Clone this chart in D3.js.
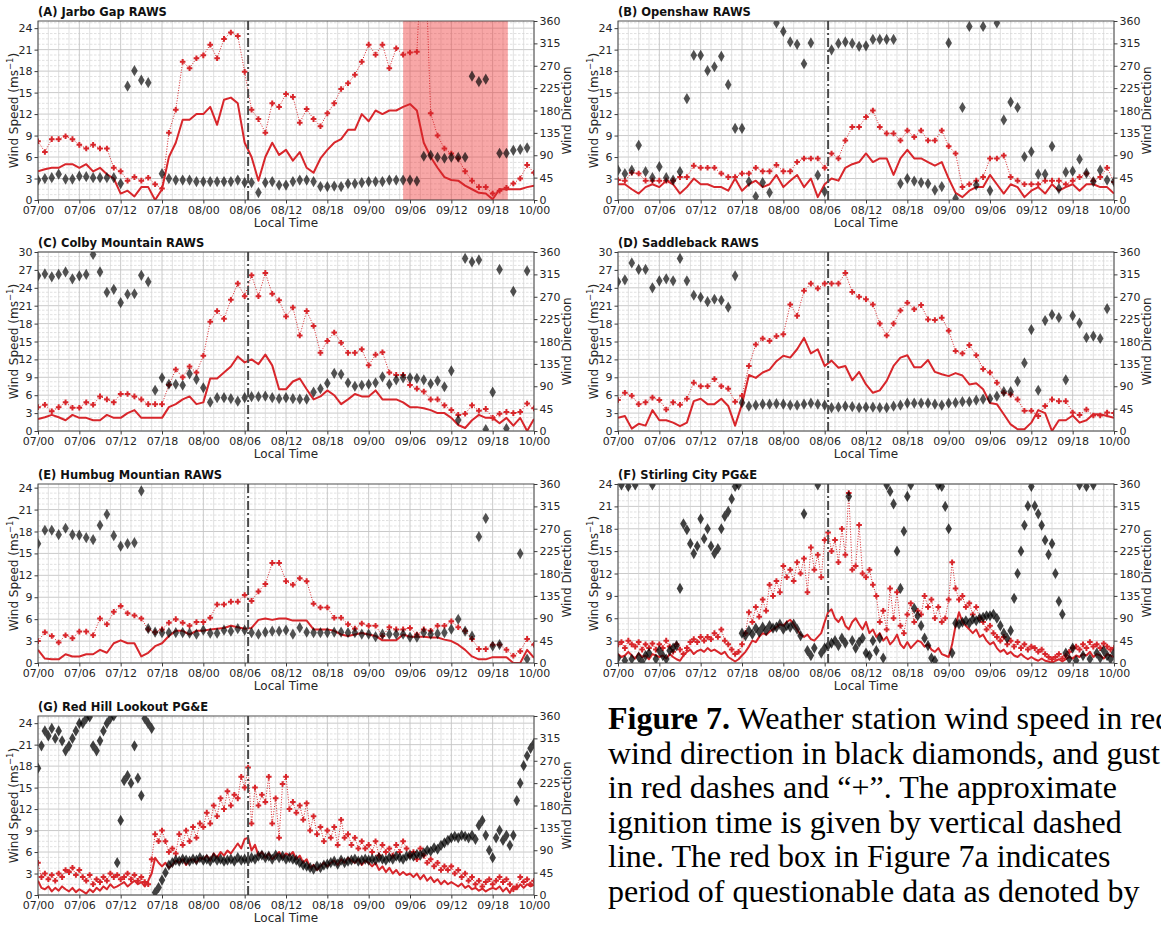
<!DOCTYPE html>
<html>
<head>
<meta charset="utf-8">
<script src="https://cdn.jsdelivr.net/npm/d3@7"></script>
<style>
  body { margin: 0; background: #fff; }
  svg { display: block; }
</style>
</head>
<body>
<svg id="fig" width="1161" height="926"></svg>
<script>
// ---- time axis -------------------------------------------------------------
const timeLabels = ["07/00","07/06","07/12","07/18","08/00","08/06","08/12","08/18","09/00","09/06","09/12","09/18","10/00"];
const hourlyTimes = d3.range(73);                 // hours since 07/00 (RAWS, hourly)
const halfHourTimes = d3.range(145).map(i => i / 2); // hours since 07/00 (PG&E, 30-min)
const ignitionHour = 30.5;
const questionableSpan = [53, 68.2];

// ---- (A) Jarbo Gap RAWS -----------------------------------------------------
const jarboSpeed = [4.0,4.3,4.5,4.5,5.0,5.0,4.5,5.0,4.0,4.5,3.6,3.0,0.9,1.3,0.5,1.8,1.8,0.0,1.5,6.0,8.0,11.2,11.2,12.0,12.0,13.0,10.5,14.0,14.3,13.5,8.0,6.0,2.7,6.0,8.0,6.3,7.0,5.5,6.7,4.5,3.8,5.8,7.0,8.0,8.5,9.8,9.8,12.0,11.0,12.5,12.0,12.5,12.5,13.0,13.4,12.5,8.0,6.0,4.5,3.2,2.8,2.7,2.0,1.5,1.0,0.9,0.1,1.5,1.5,1.5,1.5,1.8,2.0];
const jarboGust = [8.2,6.7,8.5,8.5,8.9,8.5,7.7,7.2,7.7,7.2,7.2,4.5,4.0,2.7,3.2,2.7,3.1,2.2,1.6,9.4,12.6,19.3,18.4,19.8,20.2,21.7,19.8,22.5,23.4,22.9,17.9,12.6,11.3,9.4,13.5,13.0,14.8,14.4,10.8,12.7,11.3,10.3,12.1,13.5,15.5,16.3,17.5,19.3,21.7,20.3,21.7,18.4,21.2,20.3,20.6,20.7,40.0,12.1,9.0,7.2,6.5,5.8,4.0,2.7,1.8,1.8,0.9,1.3,1.7,2.3,3.0,4.9,3.8];
const jarboDir = [40,43,45,52,42,42,48,47,45,45,45,45,33,229,260,241,236,null,53,43,40,40,40,37,37,37,37,37,37,40,35,35,15,35,37,30,30,37,40,40,37,27,27,28,27,33,33,35,37,37,37,40,40,40,40,38,88,90,86,84,86,86,86,249,238,243,null,94,94,100,102,105,null];

// ---- (B) Openshaw RAWS ------------------------------------------------------
const openshawSpeed = [2.2,2.2,1.5,0.9,1.8,2.2,1.8,2.7,2.2,0.9,1.8,3.0,2.2,2.2,1.8,1.8,1.3,3.0,1.3,2.2,2.7,1.8,2.2,3.5,1.8,2.7,3.5,1.8,3.0,0.4,2.2,3.0,2.7,4.5,5.0,5.3,6.5,5.3,5.8,5.8,3.5,5.8,7.0,5.8,5.8,5.3,4.8,5.3,3.0,1.0,0.4,1.3,1.8,1.8,3.5,2.2,0.9,2.2,1.8,0.4,1.3,1.8,0.9,2.2,1.3,1.8,2.2,1.3,2.2,2.2,1.8,1.8,0.9];
const openshawGust = [2.8,2.7,3.8,3.7,2.7,2.7,2.7,2.7,2.7,3.2,3.2,4.8,4.5,4.5,4.5,3.7,3.2,3.2,3.7,3.7,4.5,4.0,4.0,4.9,4.0,4.0,5.3,5.8,5.8,5.8,4.5,6.5,5.8,8.3,10.2,10.2,11.6,12.5,10.2,9.3,9.3,8.3,9.7,8.8,9.7,8.3,8.3,9.7,7.5,6.5,1.8,2.2,2.7,3.2,5.8,5.8,6.2,3.2,2.7,2.2,2.2,2.2,2.7,2.7,2.7,2.2,2.7,3.2,3.7,2.7,3.2,4.5,2.5];
const openshawDir = [60,53,60,110,57,45,67,45,40,57,204,291,291,260,268,289,232,144,144,37,7,35,15,356,339,318,313,274,316,50,17,302,315,318,315,309,310,323,323,323,323,33,43,38,35,33,20,27,316,3,186,349,30,349,19,356,161,197,186,87,97,52,52,108,23,56,58,82,54,37,60,40,37];

// ---- (C) Colby Mountain RAWS ------------------------------------------------
const colbySpeed = [2.0,2.3,2.7,2.3,1.8,2.7,2.2,2.2,1.8,1.8,2.7,2.2,2.2,3.0,3.5,2.2,2.2,2.2,2.2,4.0,4.5,5.3,5.8,4.5,4.8,8.8,8.8,9.8,10.8,12.5,11.5,12.0,11.2,12.8,11.0,7.0,7.0,8.3,8.8,7.0,5.3,5.8,6.8,6.0,4.5,5.3,6.2,5.8,5.8,6.8,5.3,5.3,5.3,4.8,4.0,4.0,3.8,3.5,3.0,3.0,2.2,1.0,0.5,1.8,2.7,2.2,2.2,1.3,2.2,0.9,2.2,0.0,2.0];
const colbyGust = [4.0,4.4,3.3,4.0,4.8,3.9,3.9,4.8,4.4,5.8,5.3,4.8,6.2,6.2,5.8,5.3,4.5,4.5,4.5,7.7,10.3,9.0,10.8,9.8,12.6,18.3,20.1,18.8,22.0,24.7,22.6,26.1,22.6,26.5,23.0,21.9,19.2,20.7,16.0,20.1,17.6,13.1,15.1,16.5,14.8,13.1,13.1,13.7,11.0,12.8,13.2,9.8,9.4,9.4,7.7,7.1,6.6,5.3,5.3,4.3,3.5,2.7,2.9,4.3,3.4,3.7,2.2,2.9,3.2,3.0,3.2,4.6,3.8];
const colbyDir = [312,316,310,315,320,306,312,315,355,320,279,285,258,275,276,313,300,82,107,94,94,92,115,104,87,58,67,67,65,60,67,69,69,70,67,65,67,65,64,64,78,85,96,116,114,97,90,92,94,97,109,94,103,107,107,106,103,95,101,89,121,22,347,340,344,3,78,325,5,281,null,322,null];

// ---- (D) Saddleback RAWS ----------------------------------------------------
const saddlebackSpeed = [2.2,2.5,0.4,1.2,0.9,3.5,1.8,1.8,1.4,0.8,1.4,5.0,5.4,4.5,4.5,5.4,4.2,0.9,4.5,9.4,8.9,9.8,10.3,11.7,12.6,12.3,13.7,15.6,13.0,13.7,10.9,11.8,10.6,10.9,8.5,9.9,7.8,6.4,6.8,8.4,10.9,12.3,12.7,10.7,10.7,11.9,9.9,9.5,9.2,9.7,9.3,7.8,8.0,7.0,4.7,4.5,2.8,1.1,0.3,0.3,1.4,3.5,3.0,0.0,1.8,1.8,2.6,1.4,1.8,2.8,2.8,2.5,2.2];
const saddlebackGust = [5.2,6.4,5.9,4.5,4.8,5.6,5.2,3.6,4.8,4.4,5.4,8.1,7.5,7.5,8.7,7.5,7.1,4.9,5.9,10.9,14.5,15.5,15.1,15.9,16.2,21.2,19.3,23.5,24.7,23.9,24.7,24.7,24.7,26.5,23.3,22.5,22.1,21.2,18.0,16.0,18.0,20.2,21.5,20.4,21.1,18.7,18.6,19.0,16.8,13.4,13.0,14.4,12.7,10.4,9.8,8.1,6.4,6.1,5.3,3.4,3.4,2.5,4.2,5.3,5.0,5.0,3.1,2.7,3.6,2.6,2.6,3.1,3.0];
const saddlebackDir = [300,304,338,325,325,288,302,306,302,347,302,273,269,260,265,263,249,312,57,50,52,54,54,55,54,52,52,54,56,54,52,47,48,50,49,47,48,48,47,47,50,52,56,56,56,56,54,52,56,57,59,59,62,64,65,70,79,79,100,137,204,82,222,234,228,103,232,217,188,191,186,246,null];

// ---- (E) Humbug Mountian RAWS -----------------------------------------------
const humbugSpeed = [1.8,0.6,0.5,0.5,1.2,0.9,0.9,1.2,1.2,1.8,1.4,2.7,3.1,2.7,2.7,0.9,1.4,2.3,2.7,3.7,4.4,4.4,3.9,4.4,4.4,4.6,4.7,4.8,5.1,4.9,4.7,4.8,5.9,6.1,5.9,6.1,6.1,5.8,5.8,5.8,4.6,4.6,4.6,4.4,3.9,3.7,3.9,4.1,3.9,3.7,3.1,3.1,3.1,3.9,3.6,3.6,3.6,3.5,3.5,3.2,3.0,2.5,1.8,0.9,0.5,0.5,0.8,0.8,0.8,0.0,0.0,1.8,0.7];
const humbugGust = [3.0,4.2,3.7,2.8,3.8,3.4,4.3,4.3,3.8,6.1,5.3,7.0,7.8,6.8,6.5,6.1,4.6,4.2,4.6,5.5,6.0,5.5,5.1,5.6,5.6,6.2,8.0,8.0,8.4,8.4,9.3,8.5,9.8,10.8,13.7,13.7,11.2,10.7,11.6,11.2,8.1,7.6,7.6,6.2,6.2,5.3,4.7,5.4,5.1,5.1,3.7,4.9,4.6,4.6,4.8,3.9,4.6,4.4,5.1,5.1,5.7,4.9,4.4,3.3,1.9,1.9,2.5,2.5,1.8,1.0,1.6,3.3,2.5];
const humbugDir = [240,267,267,258,271,258,257,252,248,277,299,256,235,240,242,346,69,62,61,61,61,61,60,58,66,60,60,66,64,69,66,61,58,62,64,64,66,58,71,62,61,61,61,62,62,61,61,58,58,53,58,58,58,58,52,52,61,58,59,61,68,88,64,54,254,291,34,37,null,null,220,8,null];

// ---- (F) Stirling City PG&E (30-min) ----------------------------------------
const stirlingSpeed = [1.2,0.8,1.0,1.5,1.0,0.6,1.3,0.8,1.0,0.5,1.2,1.0,0.8,
  1.0,0.6,1.2,0.8,0.5,0.3,1.0,1.5,1.8,1.2,1.6,1.8,
  1.5,2.0,1.6,1.8,1.5,1.2,1.5,0.8,0.5,0.2,0.5,1.0,
  1.5,2.2,3.0,2.8,3.5,4.0,3.8,4.2,4.5,4.8,5.2,5.0,
  5.5,5.8,5.2,4.5,3.8,3.5,3.8,3.2,3.0,3.5,4.0,5.5,
  6.8,7.2,6.0,5.5,6.2,5.0,4.5,5.5,6.0,5.2,4.5,5.5,
  4.0,4.5,3.5,4.0,3.0,3.5,2.5,3.0,3.8,2.5,2.0,2.8,
  2.0,2.5,3.0,2.8,2.2,2.5,1.8,1.5,2.0,1.2,1.0,0.8,
  2.5,5.0,6.8,5.5,5.0,4.5,4.0,4.5,3.5,3.8,3.0,2.5,
  2.8,2.0,1.5,1.8,1.2,1.5,1.0,0.8,1.2,0.8,0.5,0.8,
  0.5,0.3,0.6,0.3,0.2,0.0,0.3,0.5,0.2,0.5,0.8,0.6,
  1.0,0.8,1.2,1.0,1.5,0.8,1.2,1.0,0.6,1.2,1.0,0.8];
const stirlingGust = [2.5,2.8,2.0,3.0,2.5,2.2,2.8,1.8,2.5,2.0,2.6,1.8,2.5,
  2.0,3.0,2.2,1.5,2.5,1.8,1.2,2.0,2.8,3.2,2.8,3.5,
  3.0,3.5,3.2,4.0,3.5,4.5,3.0,2.5,1.8,1.2,1.5,2.5,
  4.0,6.8,5.5,7.5,6.2,8.5,7.0,10.5,9.0,11.0,9.5,13.0,
  11.5,12.5,11.0,13.5,12.0,14.0,9.5,15.5,12.5,14.5,11.5,16.5,
  17.5,15.0,16.5,13.5,18.0,14.5,22.8,12.5,13.0,18.5,12.0,11.5,
  12.5,10.5,9.0,5.5,7.0,4.5,10.0,6.0,9.5,5.0,4.0,6.5,
  8.0,5.5,7.0,6.5,9.0,7.5,8.5,6.0,7.5,5.5,6.0,8.5,
  13.5,10.0,8.5,9.0,7.5,8.0,6.5,7.5,6.0,5.5,4.5,5.0,
  4.0,3.5,3.0,3.5,2.5,3.0,2.2,2.8,2.0,2.5,1.8,2.2,
  2.0,1.5,1.8,1.2,0.8,0.5,0.8,1.2,0.6,1.0,1.5,2.0,
  2.2,1.8,2.5,2.0,2.8,2.2,2.5,2.0,2.6,2.2,1.8,2.0];
const stirlingDir = [10,358,5,355,8,358,12,3,15,20,358,8,25,
  15,8,25,30,35,150,280,268,240,220,235,290,
  250,270,235,220,230,270,295,305,330,355,358,60,
  55,65,58,70,62,72,65,75,70,72,78,68,
  75,72,78,68,55,300,25,15,30,358,20,30,
  35,40,45,35,50,40,335,45,30,42,50,20,
  15,45,25,50,10,358,345,320,225,150,265,335,
  358,110,95,75,50,35,10,5,358,355,315,270,
  20,80,78,82,85,80,88,85,90,92,95,95,
  98,90,75,60,50,65,130,180,225,277,316,355,
  316,300,277,247,218,240,180,124,98,20,8,30,
  5,358,15,355,8,358,20,10,25,15,8,20];

// ---- (G) Red Hill Lookout PG&E (30-min) -------------------------------------
const redHillSpeed = [2.0,1.0,0.8,1.2,0.5,1.0,0.6,1.2,0.8,0.5,1.0,0.4,0.8,
  0.5,0.2,0.8,0.4,1.0,0.6,1.2,0.8,1.5,1.0,1.2,1.5,
  1.8,1.2,1.6,2.0,1.5,1.8,1.2,2.0,3.0,5.2,4.5,4.0,
  4.5,3.8,4.2,4.8,4.5,5.0,4.2,4.8,5.0,4.5,5.2,5.0,
  5.5,4.8,5.8,5.2,6.0,5.5,6.2,5.8,6.5,7.2,6.5,7.8,
  8.0,6.2,7.0,5.5,6.0,5.2,5.8,5.0,5.5,6.0,5.2,5.8,
  5.5,6.0,5.0,5.5,4.5,5.0,3.8,4.2,3.5,4.0,4.5,4.0,
  4.5,4.8,4.2,5.0,4.5,5.2,4.8,4.5,5.0,4.2,4.8,4.5,
  4.0,4.5,3.5,4.0,3.2,3.8,3.0,3.5,2.8,3.2,2.8,3.0,
  2.5,3.0,2.2,2.8,2.0,2.5,1.8,2.2,1.5,2.0,1.5,1.8,
  1.5,1.2,1.6,1.0,1.3,0.8,1.0,0.6,0.9,0.5,0.8,1.0,
  0.8,1.2,0.5,1.0,0.3,1.2,0.8,1.5,1.0,1.5,1.2,1.4];
const redHillGust = [4.5,2.5,3.0,2.2,2.8,2.0,3.0,2.5,3.5,3.2,3.8,2.8,3.5,
  2.5,2.0,2.8,1.5,2.2,1.8,2.5,2.0,3.0,2.5,2.8,2.2,
  2.5,3.0,2.2,2.8,2.0,2.5,1.8,1.5,5.0,8.5,7.5,9.0,
  7.5,6.0,6.5,5.8,8.5,7.0,9.0,7.5,9.5,8.0,10.0,9.5,
  11.5,10.0,12.5,11.0,13.5,12.0,14.5,12.5,14.0,13.5,16.5,15.0,
  17.8,10.0,15.0,12.5,14.0,13.0,16.5,10.0,13.5,8.0,15.5,16.5,
  12.0,13.0,11.5,12.5,10.5,12.8,9.0,11.0,8.5,9.5,7.5,9.0,
  8.0,9.5,7.0,10.5,8.0,8.5,7.0,8.0,6.5,7.5,6.5,7.0,
  6.0,7.5,5.5,7.0,6.0,6.5,5.5,7.0,6.0,7.5,6.5,5.5,
  6.0,5.0,6.5,5.5,4.5,5.0,4.0,4.5,3.5,4.0,3.5,4.0,
  3.0,3.5,2.5,3.0,2.0,2.5,1.5,2.0,1.2,1.8,2.2,1.5,
  2.0,2.5,1.8,2.2,1.5,0.8,1.2,2.5,1.8,2.2,1.5,2.0];
const redHillDir = [255,300,330,320,335,315,330,310,290,300,315,330,345,
  345,355,358,300,290,310,330,345,355,360,65,150,
  230,240,225,300,235,200,355,345,335,5,15,30,
  45,60,65,70,68,72,70,68,72,70,75,70,
  72,68,75,70,72,68,70,72,68,75,70,72,
  70,75,72,78,80,75,78,72,80,75,78,72,
  75,72,70,65,60,58,55,52,58,55,60,62,
  65,68,62,70,65,68,70,72,68,70,72,70,
  72,70,75,72,70,75,72,78,75,72,78,80,
  78,82,80,85,90,88,95,92,100,105,110,115,
  118,115,120,118,115,120,112,140,150,120,90,75,
  115,130,110,120,100,120,190,225,260,280,295,305];

// ---- panel list -------------------------------------------------------------
const panels = [
  { title: "(A) Jarbo Gap RAWS", col: 0, row: 0, yMax: 25, t: hourlyTimes, speed: jarboSpeed, gust: jarboGust, dir: jarboDir, box: questionableSpan },
  { title: "(B) Openshaw RAWS", col: 1, row: 0, yMax: 25, t: hourlyTimes, speed: openshawSpeed, gust: openshawGust, dir: openshawDir },
  { title: "(C) Colby Mountain RAWS", col: 0, row: 1, yMax: 30, t: hourlyTimes, speed: colbySpeed, gust: colbyGust, dir: colbyDir },
  { title: "(D) Saddleback RAWS", col: 1, row: 1, yMax: 30, t: hourlyTimes, speed: saddlebackSpeed, gust: saddlebackGust, dir: saddlebackDir },
  { title: "(E) Humbug Mountian RAWS", col: 0, row: 2, yMax: 24.5, t: hourlyTimes, speed: humbugSpeed, gust: humbugGust, dir: humbugDir },
  { title: "(F) Stirling City PG&E", col: 1, row: 2, yMax: 24, t: halfHourTimes, speed: stirlingSpeed, gust: stirlingGust, dir: stirlingDir },
  { title: "(G) Red Hill Lookout PG&E", col: 0, row: 3, yMax: 25, t: halfHourTimes, speed: redHillSpeed, gust: redHillGust, dir: redHillDir }
];

// ---- drawing ----------------------------------------------------------------
const svg = d3.select("#fig");
const W = 496, H = 179;
const colX = [38, 618];
const rowY = [21, 252, 484, 716];
const RED = "#d8262b";
const FONT = "DejaVu Sans, sans-serif";
const diamond = "M0,-5.6L3.3,0L0,5.6L-3.3,0Z";
const plus = "M-2.8,0H2.8M0,-2.8V2.8";

panels.forEach((p, k) => {
  const g = svg.append("g").attr("transform", `translate(${colX[p.col]},${rowY[p.row]})`);
  const x = d3.scaleLinear().domain([0, 72]).range([0, W]);
  const y = d3.scaleLinear().domain([0, p.yMax]).range([H, 0]);
  const yr = d3.scaleLinear().domain([0, 360]).range([H, 0]);
  const dense = p.t.length > 100;

  const clipId = "plot-clip-" + k;
  g.append("clipPath").attr("id", clipId)
    .append("rect").attr("width", W).attr("height", H);

  // grid: minor then major
  const grid = g.append("g");
  d3.range(0, p.yMax + 1e-6, 0.75).forEach(v => {
    const major = Math.abs(v / 3 - Math.round(v / 3)) < 1e-6;
    grid.append("line").attr("x1", 0).attr("x2", W).attr("y1", y(v)).attr("y2", y(v))
      .attr("stroke", major ? "#c4c4c4" : "#d4d4d4")
      .attr("stroke-width", major ? 0.9 : 0.7)
      .attr("stroke-dasharray", major ? null : "2.5,1.5");
  });
  d3.range(0, 72.001, 1.5).forEach(h => {
    const major = h % 6 === 0;
    grid.append("line").attr("y1", 0).attr("y2", H).attr("x1", x(h)).attr("x2", x(h))
      .attr("stroke", major ? "#c4c4c4" : "#d4d4d4")
      .attr("stroke-width", major ? 0.9 : 0.7);
  });

  // flagged period
  if (p.box) {
    g.append("rect").attr("x", x(p.box[0])).attr("width", x(p.box[1]) - x(p.box[0]))
      .attr("y", 0).attr("height", H).attr("fill", "#ef3b3b").attr("opacity", 0.45);
  }

  const plot = g.append("g").attr("clip-path", `url(#${clipId})`);

  // gust: dotted line with "+" markers
  const gustPts = p.t.map((h, i) => [h, p.gust[i]]).filter(d => d[1] != null);
  plot.append("path").datum(gustPts)
    .attr("d", d3.line().x(d => x(d[0])).y(d => y(d[1])))
    .attr("fill", "none").attr("stroke", RED).attr("stroke-width", 1)
    .attr("stroke-dasharray", "1,1.6");
  plot.append("g").selectAll("path").data(gustPts).join("path")
    .attr("transform", d => `translate(${x(d[0])},${y(d[1])})`)
    .attr("d", plus).attr("stroke", RED).attr("stroke-width", 2).attr("fill", "none");

  // wind speed
  const speedPts = p.t.map((h, i) => [h, p.speed[i]]).filter(d => d[1] != null);
  plot.append("path").datum(speedPts)
    .attr("d", d3.line().x(d => x(d[0])).y(d => y(d[1])))
    .attr("fill", "none").attr("stroke", RED).attr("stroke-width", 2).attr("stroke-linejoin", "round");

  // wind direction diamonds (right axis)
  const dirPts = p.t.map((h, i) => [h, p.dir[i]]).filter(d => d[1] != null);
  plot.append("g").selectAll("path").data(dirPts).join("path")
    .attr("transform", d => `translate(${x(d[0])},${yr(d[1])})`)
    .attr("d", diamond).attr("fill", "#000").attr("fill-opacity", dense ? 0.74 : 0.68);

  // ignition time
  g.append("line").attr("x1", x(ignitionHour)).attr("x2", x(ignitionHour)).attr("y1", 0).attr("y2", H)
    .attr("stroke", "#4a4a4a").attr("stroke-width", 2).attr("stroke-dasharray", "9,3,2,3");

  // frame
  g.append("rect").attr("width", W).attr("height", H).attr("fill", "none")
    .attr("stroke", "#3c3c3c").attr("stroke-width", 0.9);

  // axes
  const styleAxis = sel => {
    sel.select(".domain").remove();
    sel.selectAll(".tick line").attr("stroke", "#3c3c3c");
    sel.selectAll(".tick text").attr("fill", "#262626").style("font-family", FONT).style("font-size", "11px");
  };
  g.append("g")
    .call(d3.axisLeft(y).tickValues(d3.range(0, p.yMax + 1e-6, 3)).tickFormat(d3.format("d")).tickSize(3.5).tickPadding(2))
    .call(styleAxis);
  g.append("g").attr("transform", `translate(${W},0)`)
    .call(d3.axisRight(yr).tickValues(d3.range(0, 361, 45)).tickSize(3.5).tickPadding(2))
    .call(styleAxis);
  g.append("g").attr("transform", `translate(0,${H})`)
    .call(d3.axisBottom(x).tickValues(d3.range(0, 73, 6)).tickFormat((d, i) => timeLabels[i]).tickSize(3.5).tickPadding(2.5))
    .call(styleAxis);

  // labels
  g.append("text").attr("x", 0).attr("y", -5).text(p.title)
    .style("font-family", FONT).style("font-weight", "bold").style("font-size", "11.5px").attr("fill", "#111");
  g.append("text").attr("x", W / 2).attr("y", H + 27).attr("text-anchor", "middle").text("Local Time")
    .style("font-family", FONT).style("font-size", "12px").attr("fill", "#262626");
  const yl = g.append("text").attr("transform", `translate(-20,${H / 2}) rotate(-90)`).attr("text-anchor", "middle")
    .style("font-family", FONT).style("font-size", "12px").attr("fill", "#262626");
  yl.append("tspan").text("Wind Speed (ms");
  yl.append("tspan").text("\u22121").attr("dy", -5).style("font-size", "8.5px");
  yl.append("tspan").text(")").attr("dy", 5);
  g.append("text").attr("transform", `translate(${W + 37},${H / 2}) rotate(-90)`).attr("text-anchor", "middle")
    .text("Wind Direction").style("font-family", FONT).style("font-size", "12px").attr("fill", "#262626");
});

// ---- caption ------------------------------------------------------------------
const captionLines = [
  "Weather station wind speed in red",
  "wind direction in black diamonds, and gust",
  "in red dashes and \u201c+\u201d. The approximate",
  "ignition time is given by vertical dashed",
  "line. The red box in Figure 7a indicates",
  "period of questionable data as denoted by"
];
const cap = svg.append("g").style("font-family", "Liberation Serif, Times New Roman, serif").style("font-size", "32px").attr("fill", "#000");
captionLines.forEach((line, i) => {
  const t = cap.append("text").attr("x", 608).attr("y", 729 + i * 34.6);
  if (i === 0) {
    t.append("tspan").text("Figure 7.").style("font-weight", "bold");
    t.append("tspan").text(" " + line);
  } else {
    t.text(line);
  }
});
</script>
</body>
</html>
